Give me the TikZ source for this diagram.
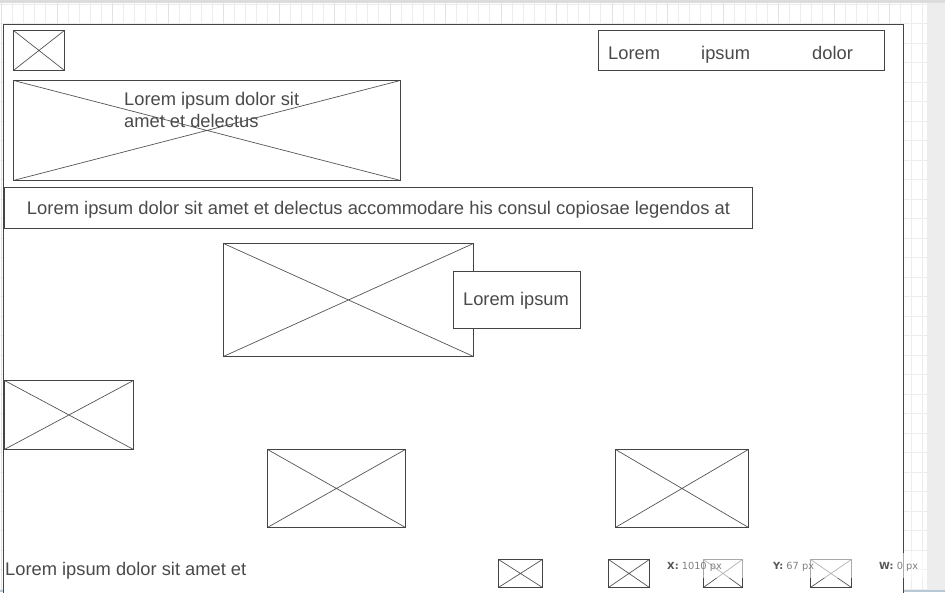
\documentclass[tikz,border=0pt]{standalone}
\usepackage{fontspec}
\setmainfont{Liberation Sans}
\newfontfamily\statfont{DejaVu Sans}
\usepackage{graphicx}
\definecolor{ln}{HTML}{444444}
\definecolor{dg}{HTML}{555555}
\definecolor{tx}{HTML}{4A4A4A}
\definecolor{gridc}{HTML}{EDEDED}
\definecolor{gridm}{HTML}{E2E2E2}
\definecolor{topg}{HTML}{DCDCDC}
\definecolor{rightg}{HTML}{EDEDED}
\definecolor{botl}{HTML}{B8C8D4}
\begin{document}
\begin{tikzpicture}[x=1pt,y=-1pt,
  xbox/.style={draw=ln, line width=0.9pt, inner sep=0pt, anchor=north west, fill=white,
    path picture={\draw[dg, line width=0.7pt]
      (path picture bounding box.north west) -- (path picture bounding box.south east)
      (path picture bounding box.south west) -- (path picture bounding box.north east);}},
  plainbox/.style={draw=ln, line width=0.9pt, inner sep=0pt, anchor=north west, fill=white},
  lbl/.style={text=tx, inner sep=0pt, font=\fontsize{18.3}{22}\selectfont},
  stat/.style={inner sep=0pt, anchor=base west, font=\statfont\fontsize{9.8}{11}\selectfont, text=gray},
]
\useasboundingbox (0,0) rectangle (945,592);
% background
\fill[rightg] (0,0) rectangle (945,592);
\fill[white] (0,3) rectangle (927,590);
\foreach \i in {0,...,83} {
  \draw[gridc, line width=0.6pt] ({1.3+11.1*\i},3) -- ({1.3+11.1*\i},590);
}
\foreach \i in {0,...,30} {
  \draw[gridc, line width=0.6pt] (0,{4+19.5*\i}) -- (927,{4+19.5*\i});
}
\foreach \i in {0,...,16} {
  \draw[gridm, line width=0.6pt] ({1.5+55.5*\i},3) -- ({1.5+55.5*\i},590);
}
\fill[topg] (0,0) rectangle (945,3);
\fill[botl] (0,589.5) rectangle (945,592);
% page frame
\node[plainbox, minimum width=900pt, minimum height=580pt] (page) at (3,24) {};
% logo
\node[xbox, minimum width=51pt, minimum height=40pt] (logo) at (13,30) {};
% navigation
\node[plainbox, minimum width=286pt, minimum height=40pt] (nav) at (598,30) {};
\node[lbl, anchor=base west] (nav1) at (608,59.5) {Lorem};
\node[lbl, anchor=base west] (nav2) at (701,59.5) {ipsum};
\node[lbl, anchor=base west] (nav3) at (812,59.5) {dolor};
% banner
\node[xbox, minimum width=387pt, minimum height=100pt] (banner) at (13,80) {};
\node[lbl, anchor=north west, align=left] (bannertext) at (124,92) {Lorem ipsum dolor sit\\amet et delectus};
% headline
\node[plainbox, minimum width=748pt, minimum height=41pt] (headline) at (4,187) {};
\node[lbl, anchor=base] (headtext) at (378.5,214) {\resizebox{703pt}{\height}{Lorem ipsum dolor sit amet et delectus accommodare his consul copiosae legendos at}};
% central image
\node[xbox, minimum width=250pt, minimum height=113pt] (img) at (223,243) {};
\node[plainbox, minimum width=127pt, minimum height=57pt] (caption) at (453,271) {};
\node[lbl, anchor=base] (captext) at (516,305.5) {Lorem ipsum};
% other images
\node[xbox, minimum width=129pt, minimum height=69pt] (imgl) at (4,380) {};
\node[xbox, minimum width=138pt, minimum height=78pt] (imgc) at (267,449) {};
\node[xbox, minimum width=133pt, minimum height=78pt] (imgr) at (615,449) {};
% footer
\node[lbl, anchor=base west] (foot) at (5,575.5) {Lorem ipsum dolor sit amet et};
\node[xbox, minimum width=44pt, minimum height=28pt] (ic1) at (498,559) {};
\node[xbox, minimum width=41pt, minimum height=28pt] (ic2) at (608,559) {};
\node[xbox, minimum width=39pt, minimum height=28pt] (ic3) at (703,559) {};
\node[xbox, minimum width=41pt, minimum height=28pt] (ic4) at (810,559) {};
% status overlay
\fill[white, opacity=0.55] (660,553) rectangle (925,578);
\node[stat] (sx) at (667,569) {\textcolor{dg}{\textbf{X:}} 1010 px};
\node[stat] (sy) at (773,569) {\textcolor{dg}{\textbf{Y:}} 67 px};
\node[stat] (sw) at (879,569) {\textcolor{dg}{\textbf{W:}} 0 px};
\end{tikzpicture}
\end{document}
